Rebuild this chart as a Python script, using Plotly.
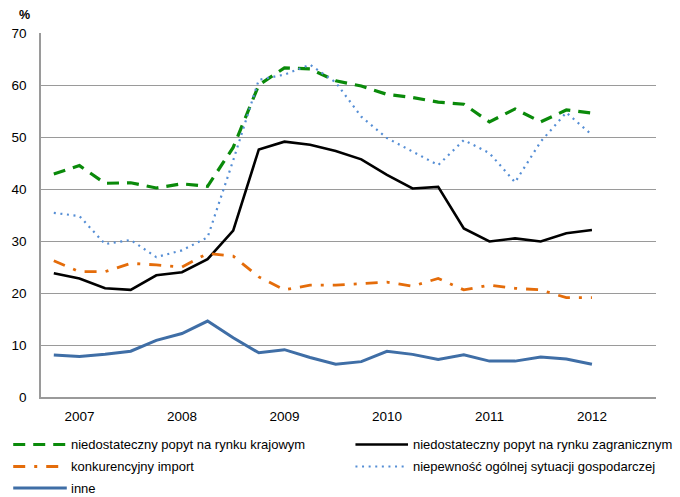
import plotly.graph_objects as go

quarters = list(range(22))
tick_positions = [1, 5, 9, 13, 17, 21]
tick_labels = ["2007", "2008", "2009", "2010", "2011", "2012"]

popyt_krajowy = [42.9, 44.5, 41.1, 41.2, 40.2, 41.0, 40.5, 48.0, 60.0, 63.3, 63.1, 60.8,
                 59.8, 58.2, 57.6, 56.7, 56.3, 52.9, 55.4, 52.9, 55.2, 54.6]
popyt_zagraniczny = [23.8, 22.8, 20.9, 20.6, 23.4, 24.0, 26.5, 32.0, 47.6, 49.1, 48.5, 47.3,
                     45.7, 42.7, 40.1, 40.4, 32.4, 29.9, 30.5, 29.9, 31.5, 32.1]
import_konk = [26.2, 24.1, 24.1, 25.7, 25.4, 25.0, 27.6, 27.1, 23.1, 20.6, 21.5, 21.5,
               21.8, 22.1, 21.3, 22.8, 20.6, 21.5, 20.9, 20.6, 19.1, 19.1]
niepewnosc = [35.4, 34.8, 29.4, 30.2, 26.9, 28.2, 30.7, 45.5, 61.0, 62.0, 63.9, 60.5,
              53.9, 49.8, 47.2, 44.6, 49.4, 46.9, 41.3, 49.1, 54.7, 50.4]
inne = [8.1, 7.8, 8.2, 8.8, 10.9, 12.2, 14.6, 11.4, 8.5, 9.1, 7.6, 6.3,
        6.8, 8.8, 8.2, 7.2, 8.1, 6.9, 6.9, 7.7, 7.3, 6.3]

W, H = 680, 497
ML, MR, MT, MB = 36, 24, 33, 100
PW, PH = W - ML - MR, H - MT - MB


def px_x(px):
    return (px - ML) / PW


def px_y(py):
    return (H - MB - py) / PH


series = [
    ("niedostateczny popyt na rynku krajowym", popyt_krajowy,
     dict(color="#0A8A0A", width=3.2, dash="12px,8px"), 0, 0),
    ("niedostateczny popyt na rynku zagranicznym", popyt_zagraniczny,
     dict(color="#000000", width=2.6), 1, 0),
    ("konkurencyjny import", import_konk,
     dict(color="#E46C0A", width=2.8, dash="12px,9px,3px,9px"), 0, 1),
    ("niepewność ogólnej sytuacji gospodarczej", niepewnosc,
     dict(color="#558ED5", width=2.2, dash="2px,4.6px"), 1, 1),
    ("inne", inne,
     dict(color="#3F6EA6", width=3), 0, 2),
]

col_line = [(8, 62), (353, 406)]
col_text = [64, 409]
row_y = [444.5, 466.5, 488]

fig = go.Figure()
shapes = []
annotations = []
for name, vals, line, col, row in series:
    fig.add_trace(go.Scatter(x=quarters, y=vals, mode="lines", name=name, line=line,
                             showlegend=False))
    x0, x1 = col_line[col]
    shapes.append(dict(type="line", xref="paper", yref="paper",
                       x0=px_x(x0), x1=px_x(x1), y0=px_y(row_y[row]), y1=px_y(row_y[row]),
                       line=line))
    annotations.append(dict(text=name, xref="paper", yref="paper",
                            x=px_x(col_text[col]), y=px_y(row_y[row]),
                            xanchor="left", yanchor="middle", showarrow=False,
                            font=dict(family="Liberation Sans Narrow, Arial Narrow, Liberation Sans",
                                      size=13, color="#000000")))

annotations.append(dict(text="<b>%</b>", xref="paper", yref="paper", x=px_x(19), y=px_y(15),
                        xanchor="center", yanchor="middle", showarrow=False,
                        font=dict(family="Liberation Sans, Arial", size=12.5, color="#000000")))

fig.update_layout(
    width=W, height=H,
    margin=dict(l=ML, r=MR, t=MT, b=MB),
    paper_bgcolor="white", plot_bgcolor="white",
    font=dict(family="Liberation Sans, Arial", size=13.5, color="#000000"),
    showlegend=False,
    shapes=shapes,
    annotations=annotations,
)
fig.update_xaxes(range=[-0.5, 23.5], tickmode="array", tickvals=tick_positions, ticktext=tick_labels,
                 showgrid=False, showline=True, linecolor="#9A9A9A", linewidth=1.5,
                 ticks="", zeroline=False, ticklabelstandoff=6,
                 tickfont=dict(family="Liberation Sans, Arial", size=13.5, color="#000000"))
fig.update_yaxes(range=[0, 70], dtick=10, showgrid=True, gridcolor="#9A9A9A", gridwidth=1.3,
                 showline=True, linecolor="#9A9A9A", linewidth=1.5, ticks="", zeroline=False,
                 ticklabelstandoff=10,
                 tickfont=dict(family="Liberation Sans, Arial", size=13.5, color="#000000"))

fig.write_html("out.html", config={"displayModeBar": False},
               post_script="document.body.style.margin='0';document.body.style.overflow='hidden';")
